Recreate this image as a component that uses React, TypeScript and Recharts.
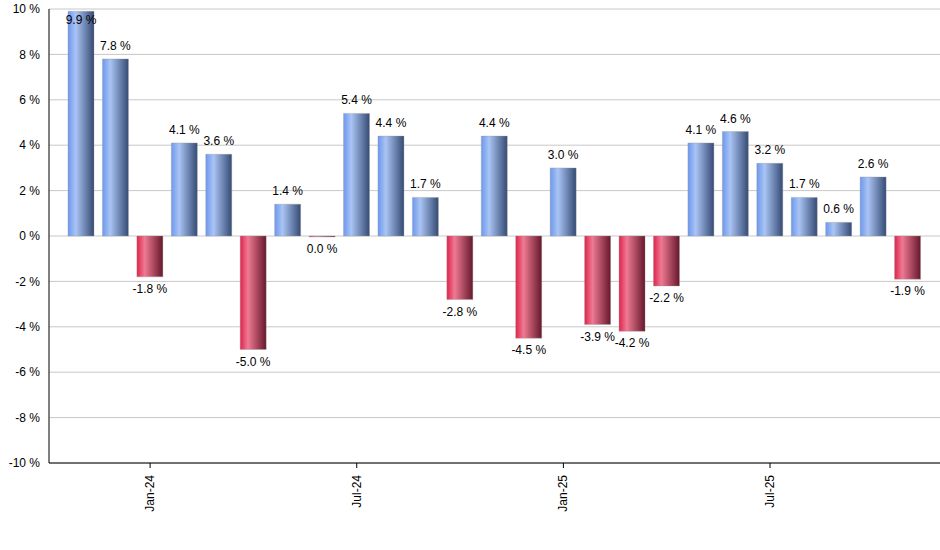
import React from "react";
import { BarChart, Bar, XAxis, YAxis, CartesianGrid, Cell, LabelList } from "recharts";

const months = [
  "Nov-23", "Dec-23", "Jan-24", "Feb-24", "Mar-24", "Apr-24", "May-24", "Jun-24",
  "Jul-24", "Aug-24", "Sep-24", "Oct-24", "Nov-24", "Dec-24", "Jan-25", "Feb-25",
  "Mar-25", "Apr-25", "May-25", "Jun-25", "Jul-25", "Aug-25", "Sep-25", "Oct-25", "Nov-25",
];
const returns = [
  9.9, 7.8, -1.8, 4.1, 3.6, -5.0, 1.4, -0.04, 5.4, 4.4, 1.7, -2.8, 4.4,
  -4.5, 3.0, -3.9, -4.2, -2.2, 4.1, 4.6, 3.2, 1.7, 0.6, 2.6, -1.9,
];
const xTicks = ["Jan-24", "Jul-24", "Jan-25", "Jul-25"];
const yTicks = [-10, -8, -6, -4, -2, 0, 2, 4, 6, 8, 10];

const data = months.map((m, i) => ({ month: m, value: returns[i] }));

const fmt = (v: number) => {
  const r = Math.abs(v) < 0.05 ? 0 : v;
  return `${r.toFixed(1)} %`;
};

const FONT = "Liberation Sans, Arial, sans-serif";

const ValueLabel = (props: any) => {
  const { x, y, width, height, value } = props;
  const cx = x + width / 2;
  const top = Math.min(y, y + height);
  const bottom = Math.max(y, y + height);
  if (value >= 0) {
    let ty = top - 9;
    if (ty < 24) ty = top + 13;
    return (
      <text x={cx} y={ty} textAnchor="middle" fontSize={12} fontFamily={FONT} fill="#000">
        {fmt(value)}
      </text>
    );
  }
  return (
    <text x={cx} y={bottom + 16} textAnchor="middle" fontSize={12} fontFamily={FONT} fill="#000">
      {fmt(value)}
    </text>
  );
};

const XTick = (props: any) => {
  const { x, y, payload } = props;
  return (
    <g transform={`translate(${x},${y + 5})`}>
      <text x={0} y={0} dy={4} textAnchor="end" transform="rotate(-90)" fontSize={12} fontFamily={FONT} fill="#000">
        {payload.value}
      </text>
    </g>
  );
};

export default function App() {
  return (
    <div style={{ position: "absolute", left: 0, top: 0, width: 940, height: 550, background: "#fff" }}>
      <BarChart
        width={940}
        height={550}
        data={data}
        margin={{ top: 9, right: 0, left: 0, bottom: 0 }}
      >
        <defs>
          <linearGradient id="blueGrad" x1="0" y1="0" x2="1" y2="0">
            <stop offset="0%" stopColor="#6c98ee" />
            <stop offset="30%" stopColor="#aac4f4" />
            <stop offset="100%" stopColor="#354b74" />
          </linearGradient>
          <linearGradient id="redGrad" x1="0" y1="0" x2="1" y2="0">
            <stop offset="0%" stopColor="#e0234c" />
            <stop offset="30%" stopColor="#ee7a92" />
            <stop offset="100%" stopColor="#66172c" />
          </linearGradient>
        </defs>
        <CartesianGrid vertical={false} stroke="#c8c8c8" />
        <XAxis
          dataKey="month"
          ticks={xTicks}
          interval={0}
          height={87}
          tick={<XTick />}
          tickLine={{ stroke: "#000" }}
          tickSize={5}
          axisLine={{ stroke: "#000", strokeWidth: 1 }}
          padding={{ left: 15, right: 15 }}
        />
        <YAxis
          domain={[-10, 10]}
          ticks={yTicks}
          width={49}
          interval={0}
          tickLine={false}
          axisLine={{ stroke: "#000", strokeWidth: 1 }}
          tick={{ fontSize: 12, fontFamily: FONT, fill: "#000" }}
          tickFormatter={(v: number) => `${v} %`}
          tickMargin={3}
        />
        <Bar dataKey="value" isAnimationActive={false} barSize={26} stroke="#999" strokeOpacity={0.35}>
          {data.map((d, i) => (
            <Cell key={i} fill={d.value >= 0 ? "url(#blueGrad)" : "url(#redGrad)"} />
          ))}
          <LabelList dataKey="value" content={<ValueLabel />} />
        </Bar>
      </BarChart>
    </div>
  );
}
